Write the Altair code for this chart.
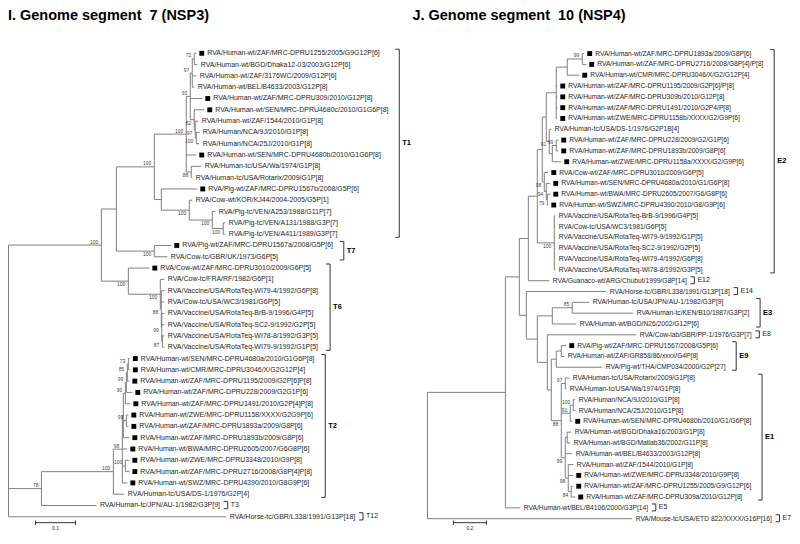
import altair as alt
import pandas as pd

# ------------------------------------------------------------------ data
LEFT_TITLE = "I. Genome segment\u00a0 7 (NSP3)"
RIGHT_TITLE = "J. Genome segment\u00a0 10 (NSP4)"

LEFT_LABELS = [
    "RVA/Human-wt/ZAF/MRC-DPRU1255/2005/G9G12P[6]",
    "RVA/Human-wt/BGD/Dhaka12-03/2003/G12P[6]",
    "RVA/Human-wt/ZAF/3176WC/2009/G12P[6]",
    "RVA/Human-wt/BEL/B4633/2003/G12P[8]",
    "RVA/Human-wt/ZAF/MRC-DPRU309/2010/G12P[8]",
    "RVA/Human-wt/SEN/MRC-DPRU4680c/2010/G1G6P[8]",
    "RVA/Human-wt/ZAF/1544/2010/G1P[8]",
    "RVA/Human/NCA/9J/2010/G1P[8]",
    "RVA/Human/NCA/25J/2010/G1P[8]",
    "RVA/Human-wt/SEN/MRC-DPRU4680b/2010/G1G6P[8]",
    "RVA/Human-tc/USA/Wa/1974/G1P[8]",
    "RVA/Human-tc/USA/Rotarix/2009/G1P[8]",
    "RVA/Pig-wt/ZAF/MRC-DPRU1567b/2008/G5P[6]",
    "RVA/Cow-wt/KOR/KJ44/2004-2005/G5P[1]",
    "RVA/Pig-tc/VEN/A253/1988/G11P[7]",
    "RVA/Pig-tc/VEN/A131/1988/G3P[7]",
    "RVA/Pig-tc/VEN/A411/1989/G3P[7]",
    "RVA/Pig-wt/ZAF/MRC-DPRU1567a/2008/G5P[6]",
    "RVA/Cow-tc/GBR/UK/1973/G6P[5]",
    "RVA/Cow-wt/ZAF/MRC-DPRU3010/2009/G6P[5]",
    "RVA/Cow-tc/FRA/RF/1982/G6P[1]",
    "RVA/Vaccine/USA/RotaTeq-WI79-4/1992/G6P[8]",
    "RVA/Cow-tc/USA/WC3/1981/G6P[5]",
    "RVA/Vaccine/USA/RotaTeq-BrB-9/1996/G4P[5]",
    "RVA/Vaccine/USA/RotaTeq-SC2-9/1992/G2P[5]",
    "RVA/Vaccine/USA/RotaTeq-WI78-8/1992/G3P[5]",
    "RVA/Vaccine/USA/RotaTeq-WI79-9/1992/G1P[5]",
    "RVA/Human-wt/SEN/MRC-DPRU4680a/2010/G1G6P[8]",
    "RVA/Human-wt/CMR/MRC-DPRU3046/X/G2G12P[4]",
    "RVA/Human-wt/ZAF/MRC-DPRU1195/2009/G2P[6]P[8]",
    "RVA/Human-wt/ZAF/MRC-DPRU228/2009/G2G1P[6]",
    "RVA/Human-wt/ZAF/MRC-DPRU1491/2010/G2P[4]P[8]",
    "RVA/Human-wt/ZWE/MRC-DPRU1158/XXXX/G2G9P[6]",
    "RVA/Human-wt/ZAF/MRC-DPRU1893a/2009/G8P[6]",
    "RVA/Human-wt/ZAF/MRC-DPRU1893b/2009/G8P[6]",
    "RVA/Human-wt/BWA/MRC-DPRU2605/2007/G6G8P[6]",
    "RVA/Human-wt/ZWE/MRC-DPRU3348/2010/G9P[8]",
    "RVA/Human-wt/ZAF/MRC-DPRU2716/2008/G8P[4]P[8]",
    "RVA/Human-wt/SWZ/MRC-DPRU4390/2010/G8G9P[6]",
    "RVA/Human-tc/USA/DS-1/1976/G2P[4]",
    "RVA/Human-tc/JPN/AU-1/1982/G3P[9]",
    "RVA/Horse-tc/GBR/L338/1991/G13P[18]",
]
LEFT_SQUARES = [1, 5, 6, 10, 13, 18, 20, 28, 29, 30, 31, 32, 33, 34, 35, 36, 37, 38, 39]
LEFT_NEWICK = """
((((((((L1:0.005,L2:0.0075)72:0.005,L3:0.01,L4:0.005)97:0.005,L5:0.03,
(L6:0.025,(L7:0.0075,(L8:0.0075,L9:0.0075)100:0.0025)97:0.0025)82:0.01)93:0.01,
L10:0.025,(L11:0.025,L12:0.0025)88:0.0125)100:0.08,
(L13:0.09,(L14:0.0075,(L15:0.0075,(L16:0.005,L17:0.005)100:0.0275)100:0.0575)100:0.07):0.0175)100:0.095,
(L18:0.0425,L19:0.0325)100:0.095):0.0375,
(L20:0.0525,(L21:0.01,(L22:0.0075,L23:0.0075,(L24:0.00625,L25:0.00625,
(L26:0.005,L27:0.005)87:0.00125)99:0.00125)88:0.0025)100:0.08)100:0.0675)100:0.2325,
((((((((L28:0.00375,L29:0.00375)73:0.0025,L30:0.005)85:0.0025,L31:0.015)99:0.0025,L32:0.0125)90:0.005,
(L33:0.005,L34:0.005)99:0.0075,L35:0.015):0.0025,L36:0.0125,(L37:0.01,L38:0.01)100:0.0075,
L39:0.0125)98:0.0225,L40:0.0275)100:0.18,L41:0.1375)78:0.0825,L42:0.545);
"""
LEFT_CLADES = [["T1", 1, 17, True], ["T7", 18, 19, True], ["T6", 20, 27, True],
               ["T2", 28, 40, True], ["T3", 41, 41, False], ["T12", 42, 42, False]]
LEFT_SCALE = 0.1

RIGHT_LABELS = [
    "RVA/Human-wt/ZAF/MRC-DPRU1893a/2009/G8P[6]",
    "RVA/Human-wt/ZAF/MRC-DPRU2716/2008/G8P[4]/P[8]",
    "RVA/Human-wt/CMR/MRC-DPRU3046/X/G2/G12P[4]",
    "RVA/Human-wt/ZAF/MRC-DPRU1195/2009/G2P[6]/P[8]",
    "RVA/Human-wt/ZAF/MRC-DPRU309b/2010/G12P[8]",
    "RVA/Human-wt/ZAF/MRC-DPRU1491/2010/G2P4/P[8]",
    "RVA/Human-wt/ZWE/MRC-DPRU1158b/XXXX/G2/G9P[6]",
    "RVA/Human-tc/USA/DS-1/1976/G2P1B[4]",
    "RVA/Human-wt/ZAF/MRC-DPRU228/2009/G2/G1P[6]",
    "RVA/Human-wt/ZAF/MRC-DPRU1893b/2009/G8P[6]",
    "RVA/Human-wt/ZWE/MRC-DPRU1158a/XXXX/G2/G9P[6]",
    "RVA/Cow-wt/ZAF/MRC-DPRU3010/2009/G6P[5]",
    "RVA/Human-wt/SEN/MRC-DPRU4680a/2010/G1/G6P[8]",
    "RVA/Human-wt/BWA/MRC-DPRU2605/2007/G6/G8P[6]",
    "RVA/Human-wt/SWZ/MRC-DPRU4390/2010/G8/G9P[6]",
    "RVA/Vaccine/USA/RotaTeq-BrB-9/1996/G4P[5]",
    "RVA/Cow-tc/USA/WC3/1981/G6P[5]",
    "RVA/Vaccine/USA/RotaTeq-WI79-9/1992/G1P[5]",
    "RVA/Vaccine/USA/RotaTeq-SC2-9/1992/G2P[5]",
    "RVA/Vaccine/USA/RotaTeq-WI79-4/1992/G6P[8]",
    "RVA/Vaccine/USA/RotaTeq-WI78-8/1992/G3P[5]",
    "RVA/Guanaco-wt/ARG/Chubut/1999/G8P[14]",
    "RVA/Horse-tc/GBR/L338/1991/G13P[18]",
    "RVA/Human-tc/USA/JPN/AU-1/1982/G3P[9]",
    "RVA/Human-tc/KEN/B10/1987/G3P[2]",
    "RVA/Human-wt/BGD/N26/2002/G12P[6]",
    "RVA/Cow-lab/GBR/PP-1/1976/G3P[7]",
    "RVA/Pig-wt/ZAF/MRC-DPRU1567/2008/G5P[6]",
    "RVA/Human-wt/ZAF/GR858/86/xxxx/G4P[8]",
    "RVA/Pig-wt/THA/CMP034/2000/G2P[27]",
    "RVA/Human-tc/USA/Rotarix/2009/G1P[8]",
    "RVA/Human-tc/USA/Wa/1974/G1P[8]",
    "RVA/Human/NCA/9J/2010/G1P[8]",
    "RVA/Human/NCA/25J/2010/G1P[8]",
    "RVA/Human-wt/SEN/MRC-DPRU4680b/2010/G1/G6P[8]",
    "RVA/Human-wt/BGD/Dhaka16/2003/G1P[8]",
    "RVA/Human-wt/BGD/Matlab36/2002/G11P[8]",
    "RVA/Human-wt/BEL/B4633/2003/G12P[8]",
    "RVA/Human-wt/ZAF/1544/2010/G1P[8]",
    "RVA/Human-wt/ZWE/MRC-DPRU3348/2010/G9P[8]",
    "RVA/Human-wt/ZAF/MRC-DPRU1255/2005/G9/G12P[6]",
    "RVA/Human-wt/ZAF/MRC-DPRU309a/2010/G12P[8]",
    "RVA/Human-wt/BEL/B4106/2000/G3P[14]",
    "RVA/Mouse-tc/USA/ETD 822/XXXX/G16P[16]",
]
RIGHT_SQUARES = [1, 2, 3, 4, 5, 6, 7, 9, 10, 11, 12, 13, 14, 15, 28, 35, 40, 41, 42]
RIGHT_NEWICK = """
((((((((((L1:0.0121,L2:0.0242)99:0.0909,L3:0.0727):0.0667,L4:0.006,L5:0.006,L6:0.006,L7:0.006):0.0606,
(L8:0.0121,((L9:0.0121,L10:0.0121)99:0.0242,L11:0.0545):0.0182)91:0.0182):0.0242,
(L12:0.0242,(L13:0.0242,(L14:0.0182,L15:0.006)79:0.006)94:0.0121)98:0.0121):0.0303,
(L16:0.006,L17:0.006,L18:0.006,L19:0.006,L20:0.006,L21:0.006)100:0.103):0.0545,L22:0.1273):0.0545,
(L23:0.4848,(((L24:0.103,L25:0.3697)85:0.1212,L26:0.1455):0.0909,
(L27:0.5394,(((L28:0.0303,L29:0.0182):0.0303,L30:0.2788):0.0303,
((L31:0.0242,L32:0.006)97:0.0242,((L33:0.0121,L34:0.0121)100:0.0182,L35:0.0121)91:0.0545,
((L36:0.0242,L37:0.0182):0.0121,L38:0.0424,(L39:0.0303,L40:0.0303,(L41:0.0121,L42:0.0242)84:0.0182)98:0.0182)99:0.0242)88:0.0606
):0.0242):0.0606):0.0667):0.0424):0.0848,L43:0.0909):0.4727,L44:1.2424);
"""
RIGHT_CLADES = [["E2", 1, 21, True], ["E12", 22, 22, False], ["E14", 23, 23, False],
                ["E3", 24, 26, True], ["E8", 27, 27, False], ["E9", 28, 30, True],
                ["E1", 31, 42, True], ["E5", 43, 43, False], ["E7", 44, 44, False]]
RIGHT_SCALE = 0.2

# ------------------------------------------------------------------ layout settings
W, H = 784, 524
FONT = "Liberation Sans"
LINE = "#808080"
INK = "#1e1e1e"

_UP = dict(A=.667, B=.667, C=.722, D=.722, E=.667, F=.611, G=.778, H=.722, I=.278, J=.5, K=.667,
           L=.556, M=.833, N=.722, O=.778, P=.667, Q=.778, R=.722, S=.667, T=.611, U=.722, V=.667,
           W=.944, X=.667, Y=.667, Z=.611)
_LO = dict(a=.556, b=.556, c=.5, d=.556, e=.556, f=.278, g=.556, h=.556, i=.222, j=.222, k=.5,
           l=.222, m=.833, n=.556, o=.556, p=.556, q=.556, r=.333, s=.5, t=.278, u=.556, v=.5,
           w=.722, x=.5, y=.5, z=.5)
_SYM = {"/": .278, "-": .333, "[": .278, "]": .278, " ": .278, ".": .278, "(": .333, ")": .333}


def text_width(s, size):
    tot = 0.0
    for ch in s:
        tot += _UP.get(ch, _LO.get(ch, _SYM.get(ch, .556)))
    return tot * size


def parse_newick(text):
    s = "".join(text.split()).rstrip(";")
    pos = 0

    def node():
        nonlocal pos
        kids = []
        if s[pos] == "(":
            pos += 1
            while True:
                kids.append(node())
                if s[pos] == ",":
                    pos += 1
                    continue
                pos += 1  # ')'
                break
        st = pos
        while pos < len(s) and s[pos] not in ":,()":
            pos += 1
        name = s[st:pos]
        ln = 0.0
        if pos < len(s) and s[pos] == ":":
            pos += 1
            st = pos
            while pos < len(s) and s[pos] not in ",()":
                pos += 1
            ln = float(s[st:pos])
        return {"name": name, "len": ln, "kids": kids}

    return node()


def build_panel(newick, labels, squares, clades, scale_len, cfg):
    ppu, root_px, row0, rowh, fs = cfg["ppu"], cfg["root_px"], cfg["row0"], cfg["rowh"], cfg["fs"]
    root = parse_newick(newick)
    cnt = [0]

    def place(n, px):
        n["x"] = px + n["len"]
        if not n["kids"]:
            n["y"] = cnt[0]
            cnt[0] += 1
        else:
            for k in n["kids"]:
                place(k, n["x"])
            n["y"] = (n["kids"][0]["y"] + n["kids"][-1]["y"]) / 2

    place(root, 0.0)
    segs, tips, boots = [], [], []

    def collect(n, parent, last):
        if parent is not None:
            segs.append(dict(x=parent["x"], x2=n["x"], y=n["y"], y2=n["y"]))
        if n["kids"]:
            segs.append(dict(x=n["x"], x2=n["x"], y=n["kids"][0]["y"], y2=n["kids"][-1]["y"]))
            if n["name"] and parent is not None:
                boots.append(dict(x=n["x"], y=n["y"], t=n["name"], pos="below" if last else "above"))
            for i, k in enumerate(n["kids"]):
                collect(k, n, i == len(n["kids"]) - 1)
        else:
            idx = int(n["name"][1:])
            tips.append(dict(x=n["x"], y=n["y"], idx=idx, label=labels[idx - 1],
                             sq=idx in squares))

    collect(root, None, False)
    segs = pd.DataFrame(segs)
    tips = pd.DataFrame(tips)
    boots = pd.DataFrame(boots)
    tipx = dict(zip(tips["idx"], tips["x"]))
    tipy = dict(zip(tips["idx"], tips["y"]))

    # clade brackets
    brk, cl = [], []
    for name, a, b, bold in clades:
        ends = []
        for i in range(a, b + 1):
            off = 11 if i in squares else 3.5
            ends.append(tipx[i] + (off + text_width(labels[i - 1], fs)) / ppu)
        gap = 10 if b > a else 7
        bx = max(ends) + gap / ppu
        y1, y2 = tipy[a] - 0.36, tipy[b] + 0.28
        tick = 4 / ppu
        brk += [dict(x=bx, x2=bx, y=y1, y2=y2), dict(x=bx - tick, x2=bx, y=y1, y2=y1),
                dict(x=bx - tick, x2=bx, y=y2, y2=y2)]
        cl.append(dict(x=bx + 3 / ppu, y=(y1 + y2) / 2, t=name, bold=bold))
    brk = pd.DataFrame(brk)
    cl = pd.DataFrame(cl)

    # scale bar
    sb_x = cfg["bar_px"] / ppu
    sb_y = (cfg["bar_y"] - row0) / rowh
    tk = 2.2 / rowh
    bar = pd.DataFrame([dict(x=sb_x, x2=sb_x + scale_len, y=sb_y, y2=sb_y),
                        dict(x=sb_x, x2=sb_x, y=sb_y - tk, y2=sb_y + tk),
                        dict(x=sb_x + scale_len, x2=sb_x + scale_len, y=sb_y - tk, y2=sb_y + tk)])
    bar_lab = pd.DataFrame([dict(x=sb_x + scale_len / 2, y=sb_y + 5 / rowh, t=str(scale_len))])

    xs = alt.Scale(domain=[-root_px / ppu, (W - root_px) / ppu], nice=False, zero=False)
    ys = alt.Scale(domain=[-row0 / rowh, (H - row0) / rowh], nice=False, zero=False, reverse=True)
    X = alt.X("x:Q", scale=xs, axis=None)
    Y = alt.Y("y:Q", scale=ys, axis=None)
    X2, Y2 = alt.X2("x2:Q"), alt.Y2("y2:Q")

    layers = [
        alt.Chart(segs).mark_rule(color=LINE, strokeWidth=1).encode(x=X, x2=X2, y=Y, y2=Y2),
        alt.Chart(tips[tips.sq]).mark_square(size=24, color="black", opacity=1, xOffset=5.5)
        .encode(x=X, y=Y),
        alt.Chart(tips[~tips.sq]).mark_text(align="left", baseline="middle", dx=3.5, fontSize=fs,
                                            font=FONT, color=INK).encode(x=X, y=Y, text="label:N"),
        alt.Chart(tips[tips.sq]).mark_text(align="left", baseline="middle", dx=11, fontSize=fs,
                                           font=FONT, color=INK).encode(x=X, y=Y, text="label:N"),
        alt.Chart(boots[boots.pos == "above"]).mark_text(align="right", baseline="bottom", dx=-3,
                                                         dy=-0.5, fontSize=5, font=FONT, color="#444")
        .encode(x=X, y=Y, text="t:N"),
        alt.Chart(boots[boots.pos == "below"]).mark_text(align="right", baseline="top", dx=-3,
                                                         dy=1, fontSize=5, font=FONT, color="#444")
        .encode(x=X, y=Y, text="t:N"),
        alt.Chart(brk).mark_rule(color="#333", strokeWidth=1).encode(x=X, x2=X2, y=Y, y2=Y2),
        alt.Chart(cl[cl.bold]).mark_text(align="left", baseline="middle", fontSize=7.5,
                                         fontWeight="bold", font=FONT, color="black")
        .encode(x=X, y=Y, text="t:N"),
        alt.Chart(cl[~cl.bold]).mark_text(align="left", baseline="middle", fontSize=7,
                                          font=FONT, color=INK).encode(x=X, y=Y, text="t:N"),
        alt.Chart(bar).mark_rule(color="#333", strokeWidth=1).encode(x=X, x2=X2, y=Y, y2=Y2),
        alt.Chart(bar_lab).mark_text(align="center", baseline="middle", fontSize=5, font=FONT,
                                     color=INK).encode(x=X, y=Y, text="t:N"),
        alt.Chart(pd.DataFrame({"t": [cfg["title"]]})).mark_text(
            align="left", baseline="alphabetic", fontSize=14.5, fontWeight="bold", font=FONT,
            color="black").encode(x=alt.value(cfg["title_x"]), y=alt.value(11), text="t:N"),
    ]
    return alt.layer(*layers)


left = build_panel(LEFT_NEWICK, LEFT_LABELS, LEFT_SQUARES, LEFT_CLADES, LEFT_SCALE,
                   dict(ppu=400, root_px=0.5, row0=44, rowh=11.32, fs=7, bar_px=27, bar_y=514,
                        title=LEFT_TITLE, title_x=0))
right = build_panel(RIGHT_NEWICK, RIGHT_LABELS, RIGHT_SQUARES, RIGHT_CLADES, RIGHT_SCALE,
                    dict(ppu=165, root_px=420, row0=44.3, rowh=10.83, fs=6.7, bar_px=26, bar_y=514,
                         title=RIGHT_TITLE, title_x=405))

chart = (alt.layer(left, right)
         .resolve_scale(x="independent", y="independent")
         .properties(width=W, height=H, padding=0)
         .configure_view(stroke=None))

chart.save("out.html", embed_options={"renderer": "svg", "actions": False})
